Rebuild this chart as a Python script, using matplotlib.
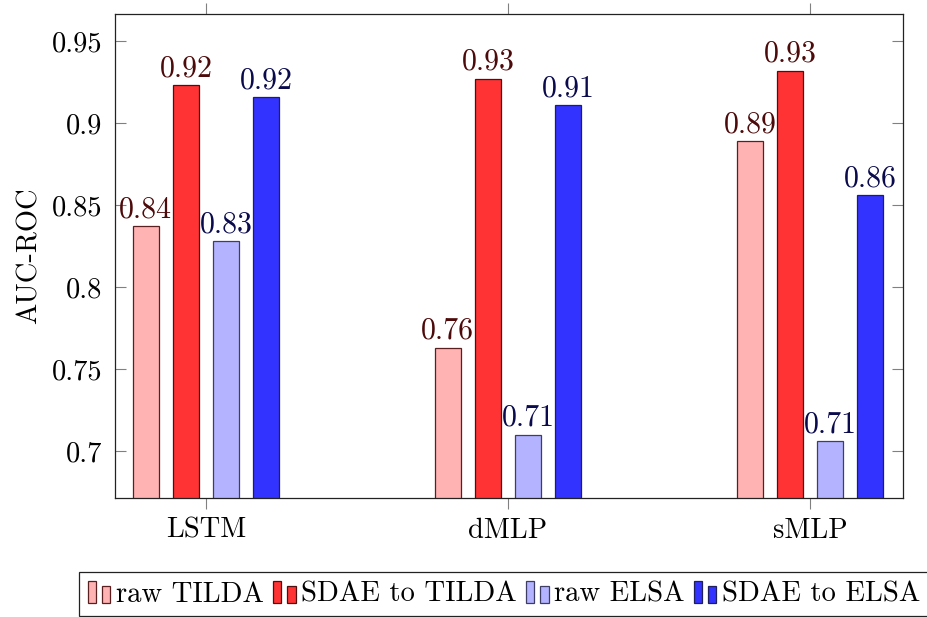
import matplotlib
matplotlib.use("Agg")
import matplotlib.pyplot as plt
import numpy as np
from matplotlib.legend_handler import HandlerBase
from matplotlib.patches import Rectangle

plt.rcParams['font.family'] = ['cmr10', 'DejaVu Serif']
plt.rcParams['mathtext.fontset'] = 'cm'
plt.rcParams['axes.formatter.use_mathtext'] = True

categories = ["LSTM", "dMLP", "sMLP"]
series_names = ["raw TILDA", "SDAE to TILDA", "raw ELSA", "SDAE to ELSA"]
raw_tilda = [0.837, 0.763, 0.889]
sdae_tilda = [0.923, 0.927, 0.932]
raw_elsa = [0.828, 0.710, 0.706]
sdae_elsa = [0.916, 0.911, 0.856]
yticks = [0.7, 0.75, 0.8, 0.85, 0.9, 0.95]
ytick_labels = ["0.7", "0.75", "0.8", "0.85", "0.9", "0.95"]

series = [raw_tilda, sdae_tilda, raw_elsa, sdae_elsa]
fills = ["#FFB3B3", "#FF3333", "#B3B3FF", "#3333FF"]
edges = ["#5c1f1f", "#4d0f0f", "#3d3d66", "#1f1f5c"]
label_colors = ["#4D0A0A", "#4D0A0A", "#0A0A4D", "#0A0A4D"]
offsets = [-0.199, -0.066, 0.066, 0.199]
width = 0.088

fig = plt.figure(figsize=(9.27, 6.17), dpi=100)
ax = fig.add_axes([115/927, 1-498/617, (903-115)/927, (498-14)/617])

x = np.arange(len(categories))
handles = []
for vals, off, fc, ec, lc, name in zip(series, offsets, fills, edges, label_colors, series_names):
    bars = ax.bar(x + off, vals, width, facecolor=fc, edgecolor=ec, linewidth=0.9,
                  label=name, bottom=0)
    ax.bar_label(bars, labels=[f"{v:.2f}" for v in vals], padding=2,
                 color=lc, fontsize=21.5)
    handles.append(bars.patches[0])

ax.set_xlim(-0.301, 2.308)
ax.set_ylim(0.6713, 0.9665)
ax.set_xticks(x)
ax.set_xticklabels(categories, fontsize=20.5)
ax.set_yticks(yticks)
ax.set_yticklabels(ytick_labels, fontsize=20.5)
ax.set_ylabel("AUC-ROC", fontsize=20.5, labelpad=7)

ax.tick_params(axis='y', direction='in', length=8, width=0.8, color='#808080',
               left=True, right=True, pad=9)
ax.tick_params(axis='x', direction='out', length=8, width=0.8, color='#808080',
               top=True, bottom=True, pad=6)
for s in ax.spines.values():
    s.set_linewidth(0.9)
    s.set_color('#222222')


class TwoBarHandler(HandlerBase):
    def create_artists(self, legend, orig_handle, xdescent, ydescent, width, height,
                       fontsize, trans):
        fc = orig_handle.get_facecolor()
        ec = orig_handle.get_edgecolor()
        bw = width * 0.37
        r1 = Rectangle((-xdescent, -ydescent), bw, height * 1.0, facecolor=fc,
                       edgecolor=ec, linewidth=0.9, transform=trans)
        r2 = Rectangle((-xdescent + width - bw, -ydescent), bw, height * 0.75,
                       facecolor=fc, edgecolor=ec, linewidth=0.9, transform=trans)
        return [r1, r2]


leg = fig.legend(handles, series_names, handler_map={h: TwoBarHandler() for h in handles},
                 loc='upper left', bbox_to_anchor=(79/927, 1-572/617), ncol=4,
                 fontsize=20.6, frameon=True, fancybox=False, edgecolor='#222222',
                 framealpha=1, handlelength=0.8, handleheight=0.82, handletextpad=0.2,
                 columnspacing=0.3, borderpad=0.3, borderaxespad=0)
leg.get_frame().set_linewidth(0.9)

fig.savefig("out.png", dpi=100)
